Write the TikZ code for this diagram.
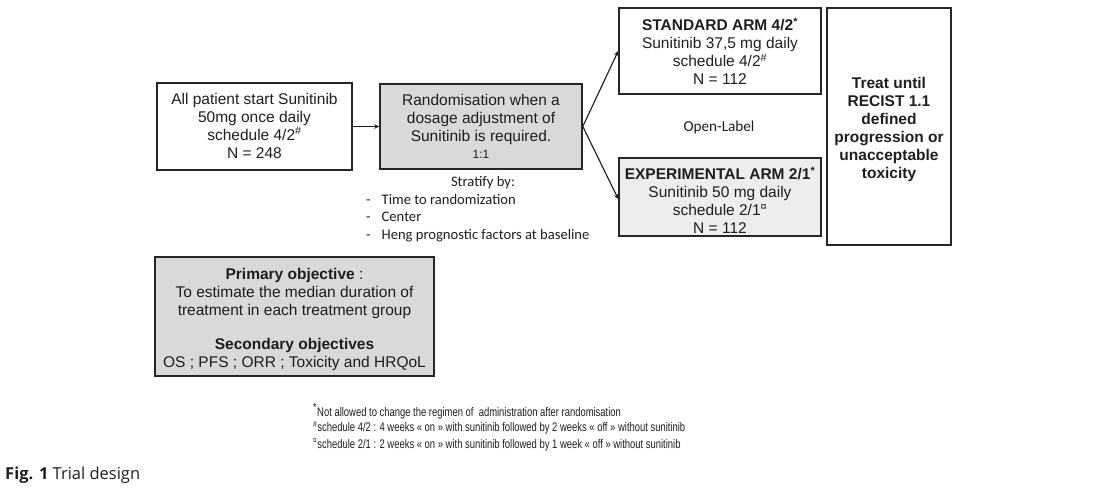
\documentclass[tikz,border=0pt]{standalone}
\usepackage{fontspec}
\setmainfont{Liberation Sans}
\newfontfamily\calib{Carlito}
\newfontfamily\narrowfont[FakeStretch=0.755]{Liberation Sans}
\newfontfamily\capfont{Open Sans}
\usetikzlibrary{arrows.meta}
\definecolor{boxline}{HTML}{262626}
\definecolor{boxtext}{HTML}{1E1E1E}
\definecolor{grayfill}{HTML}{D9D9D9}
\definecolor{lightfill}{HTML}{EDEDED}
\begin{document}
\begin{tikzpicture}[x=1pt,y=-1pt,
  box/.style={draw=boxline, line width=1.6pt, inner sep=0pt},
  boxtxt/.style={align=center, inner sep=0pt, font=\fontsize{15.5}{18}\selectfont, text=boxtext},
  conn/.style={-{Stealth[length=5pt,width=4.5pt]}, line width=1.1pt, draw=black!90},
  note/.style={font=\calib\fontsize{14.6}{17.5}\selectfont, text=boxtext, inner sep=0pt},
  foot/.style={font=\narrowfont\fontsize{12.5}{17}\selectfont, text=boxtext, inner sep=0pt, anchor=west}]
\useasboundingbox (0,0) rectangle (1100,491);

% boxes
\node[box, minimum width=195pt, minimum height=87pt] (start) at (254.5,126.5) {};
\node[box, fill=grayfill, minimum width=202pt, minimum height=85pt] (rand) at (481,126.5) {};
\node[box, minimum width=202pt, minimum height=86pt] (std) at (720,51) {};
\node[box, fill=lightfill, minimum width=202pt, minimum height=78pt] (exp) at (720,197) {};
\node[box, minimum width=124pt, minimum height=237pt] (treat) at (889,126.5) {};
\node[box, fill=grayfill, minimum width=279pt, minimum height=119pt] (obj) at (294.5,316.5) {};

% box texts
\node[boxtxt] (starttxt) at ([yshift=1pt]start.center)
  {All patient start Sunitinib\\50mg once daily\\schedule 4/2\textsuperscript{\#}\\N = 248};
\node[boxtxt] (randtxt) at (rand.center)
  {Randomisation when a\\dosage adjustment of\\Sunitinib is required.\\[-1pt]{\fontsize{12}{13}\selectfont 1:1}};
\node[boxtxt] (stdtxt) at (std.center)
  {\textbf{STANDARD ARM 4/2\textsuperscript{*}}\\Sunitinib 37,5 mg daily\\schedule 4/2\textsuperscript{\#}\\N = 112};
\node[boxtxt] (exptxt) at ([yshift=-3.5pt]exp.center)
  {\textbf{EXPERIMENTAL ARM 2/1\textsuperscript{*}}\\Sunitinib 50 mg daily\\schedule 2/1\textsuperscript{¤}\\N = 112};
\node[boxtxt, font=\bfseries\fontsize{15.5}{18}\selectfont] (treattxt) at ([yshift=-3pt]treat.center)
  {Treat until\\RECIST 1.1\\defined\\progression or\\unacceptable\\toxicity};
\node[boxtxt] (objtxt) at ([yshift=-3pt]obj.center)
  {\textbf{Primary objective} :\\To estimate the median duration of\\treatment in each treatment group\\[16pt]\textbf{Secondary objectives}\\OS ; PFS ; ORR ; Toxicity and HRQoL};

% free labels
\node[note, font=\calib\fontsize{15.2}{17.5}\selectfont] (open) at (719,127) {Open-Label};
\node[note] (strat) at (483,183) {Stratify by:};
\node[note, anchor=north west, align=left] (list) at (366,194)
  {-\hspace{11pt}Time to randomization\\-\hspace{11pt}Center\\-\hspace{11pt}Heng prognostic factors at baseline};

% connectors
\draw[conn] (start.east) -- (rand.west);
\draw[conn] (rand.east) -- (std.west);
\draw[conn] (rand.east) -- ([yshift=-2pt]exp.west);

% footnotes
\node[foot] (f1) at (313,411) {\textsuperscript{\large *}Not allowed to change the regimen of\ \ administration after randomisation};
\node[foot] (f2) at (313,428) {\textsuperscript{\#}schedule 4/2 : 4 weeks « on » with sunitinib followed by 2 weeks « off » without sunitinib};
\node[foot] (f3) at (313,445) {\textsuperscript{¤}schedule 2/1 : 2 weeks « on » with sunitinib followed by 1 week « off » without sunitinib};

\node[anchor=west, inner sep=0pt, font=\capfont\fontsize{16.5}{18}\selectfont, text=boxtext] (cap) at (5,475)
  {\textbf{Fig. 1} Trial design};
\end{tikzpicture}
\end{document}
